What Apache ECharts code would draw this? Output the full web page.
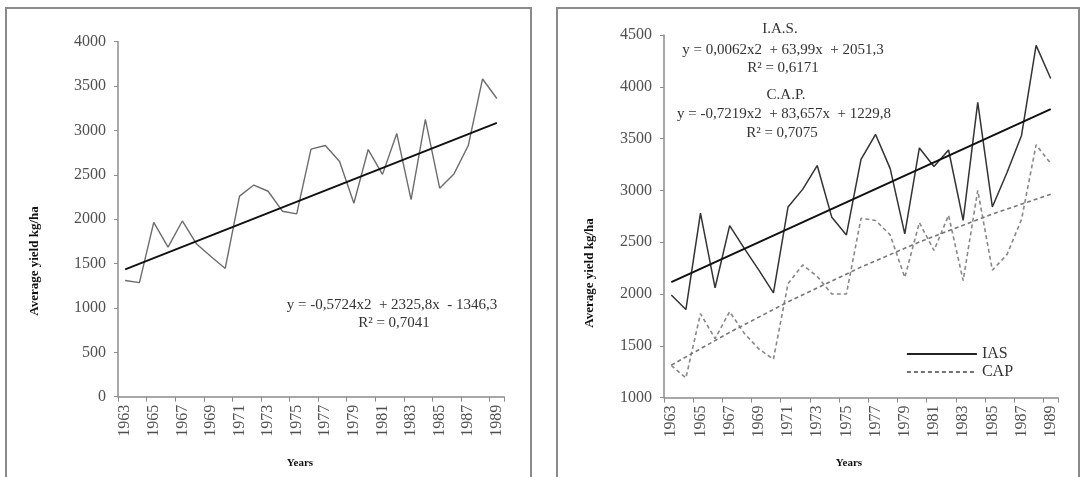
<!DOCTYPE html>
<html>
<head>
<meta charset="utf-8">
<script src="https://cdn.jsdelivr.net/npm/echarts@6/dist/echarts.min.js"></script>
<style>
  html, body { margin: 0; padding: 0; background: #fff; }
  #chart { width: 1083px; height: 477px; }
</style>
</head>
<body>
<div id="chart"></div>
<script>
// Years on the horizontal axis of both panels
const years = [
  '1963','1964','1965','1966','1967','1968','1969','1970','1971','1972',
  '1973','1974','1975','1976','1977','1978','1979','1980','1981','1982',
  '1983','1984','1985','1986','1987','1988','1989'
];

// Left panel: average yield (kg/ha)
const totalYield = [1310, 1285, 1965, 1685, 1980, 1720, 1580, 1445, 2260, 2385,
  2315, 2090, 2060, 2790, 2830, 2650, 2180, 2785, 2505, 2965,
  2220, 3125, 2350, 2510, 2830, 3580, 3360];
// Left panel trend line, anchor points [year, value]
const totalTrend = [['1963', 1435], ['1989', 3085]];

// Right panel: IAS and CAP yields (kg/ha)
const iasYield = [1990, 1850, 2780, 2060, 2660, 2440, 2230, 2010, 2840, 3010,
  3240, 2740, 2570, 3300, 3540, 3210, 2580, 3410, 3230, 3390,
  2710, 3850, 2840, 3170, 3530, 4400, 4080];
const capYield = [1310, 1190, 1810, 1570, 1830, 1620, 1470, 1370, 2100, 2280,
  2170, 2000, 2000, 2730, 2710, 2570, 2160, 2690, 2420, 2760,
  2130, 3000, 2230, 2380, 2720, 3440, 3260];
// Trend lines, anchor points [year, value]
const iasTrend = [['1963', 2115], ['1989', 3784]];
const capTrend = [['1963', 1313], ['1967', 1630], ['1971', 1924], ['1976', 2260],
  ['1980', 2502], ['1985', 2772], ['1989', 2962]];

// Axis ticks
const leftTicks = { min: 0, max: 4000, step: 500 };
const rightTicks = { min: 1000, max: 4500, step: 500 };

const SERIF = '"Liberation Serif", "Times New Roman", serif';
const axisGray = '#8c8c8c';
const labelGray = '#505050';

function xAxis(gridIndex) {
  return {
    type: 'category', gridIndex, data: years, boundaryGap: true,
    axisLine: { lineStyle: { color: axisGray, width: 1.5 } },
    axisTick: { show: true, interval: 1, length: 5, lineStyle: { color: axisGray } },
    axisLabel: { interval: 1, rotate: 90, margin: 8, color: labelGray,
      fontFamily: SERIF, fontSize: 16 },
    splitLine: { show: false }
  };
}
function yAxis(gridIndex, t) {
  return {
    type: 'value', gridIndex, min: t.min, max: t.max, interval: t.step,
    axisLine: { show: true, lineStyle: { color: axisGray, width: 1.5 } },
    axisTick: { show: true, length: 4, lineStyle: { color: axisGray } },
    axisLabel: { margin: 12, color: labelGray, fontFamily: SERIF, fontSize: 16,
      formatter: v => String(v) },
    splitLine: { show: false }
  };
}
function txt(text, x, y, size) {
  return {
    type: 'text', x, y, silent: true,
    style: { text, fill: '#333', font: size + 'px ' + SERIF,
      textAlign: 'center', textVerticalAlign: 'middle' }
  };
}
function boldTxt(text, x, y, size, rot) {
  return {
    type: 'text', x, y, rotation: rot || 0, silent: true,
    style: { text, fill: '#111', font: 'bold ' + size + 'px ' + SERIF,
      textAlign: 'center', textVerticalAlign: 'middle' }
  };
}

const chart = echarts.init(document.getElementById('chart'), null, { renderer: 'canvas' });
chart.setOption({
  backgroundColor: '#fff',
  animation: false,
  grid: [
    { left: 118, right: 579, top: 41.7, bottom: 80.3 },
    { left: 664, right: 25, top: 35, bottom: 79.4 }
  ],
  xAxis: [xAxis(0), xAxis(1)],
  yAxis: [yAxis(0, leftTicks), yAxis(1, rightTicks)],
  legend: {
    data: [
      { name: 'IAS', lineStyle: { color: '#222', width: 1.8 } },
      { name: 'CAP', lineStyle: { color: '#444', width: 1.6 } }
    ],
    orient: 'vertical', left: 901, top: 341,
    itemWidth: 70, itemHeight: 13, itemGap: 2, padding: 5,
    itemStyle: { opacity: 0 },
    textStyle: { fontFamily: SERIF, fontSize: 16, color: '#333', lineHeight: 13 }
  },
  series: [
    { name: 'Average yield', type: 'line', xAxisIndex: 0, yAxisIndex: 0, data: totalYield,
      symbol: 'none', lineStyle: { color: '#6c6c6c', width: 1.4 }, z: 2 },
    { name: 'Average yield trend', type: 'line', xAxisIndex: 0, yAxisIndex: 0, data: totalTrend,
      symbol: 'none', lineStyle: { color: '#111', width: 2 }, z: 3 },
    { name: 'IAS', type: 'line', xAxisIndex: 1, yAxisIndex: 1, data: iasYield,
      symbol: 'none', itemStyle: { color: '#222' }, lineStyle: { color: '#333', width: 1.5 }, z: 3 },
    { name: 'CAP', type: 'line', xAxisIndex: 1, yAxisIndex: 1, data: capYield,
      symbol: 'none', itemStyle: { color: '#555' },
      lineStyle: { color: '#888', width: 1.6, type: [4, 3] }, z: 2 },
    { name: 'IAS trend', type: 'line', xAxisIndex: 1, yAxisIndex: 1, data: iasTrend,
      symbol: 'none', lineStyle: { color: '#111', width: 2 }, z: 4 },
    { name: 'CAP trend', type: 'line', xAxisIndex: 1, yAxisIndex: 1, data: capTrend,
      symbol: 'none', lineStyle: { color: '#777', width: 1.6, type: [4, 3] }, z: 2 }
  ],
  graphic: [
    // panel frames
    { type: 'rect', shape: { x: 6, y: 8, width: 525, height: 480 }, silent: true,
      style: { fill: 'none', stroke: '#8a8a8a', lineWidth: 2 } },
    { type: 'rect', shape: { x: 557, y: 8, width: 522, height: 480 }, silent: true,
      style: { fill: 'none', stroke: '#8a8a8a', lineWidth: 2 } },
    // axis names
    boldTxt('Average yield kg/ha', 35, 261, 13, Math.PI / 2),
    boldTxt('Years', 300, 463, 11),
    boldTxt('Average yield kg/ha', 590, 273, 13, Math.PI / 2),
    boldTxt('Years', 849, 463, 11),
    // regression labels
    txt('y = -0,5724x2  + 2325,8x  - 1346,3', 392, 305, 15),
    txt('R² = 0,7041', 394, 323, 15),
    txt('I.A.S.', 780, 29, 15),
    txt('y = 0,0062x2  + 63,99x  + 2051,3', 783, 50, 15),
    txt('R² = 0,6171', 783, 68, 15),
    txt('C.A.P.', 786, 95, 15),
    txt('y = -0,7219x2  + 83,657x  + 1229,8', 784, 114, 15),
    txt('R² = 0,7075', 782, 133, 15)
  ]
});
</script>
</body>
</html>
